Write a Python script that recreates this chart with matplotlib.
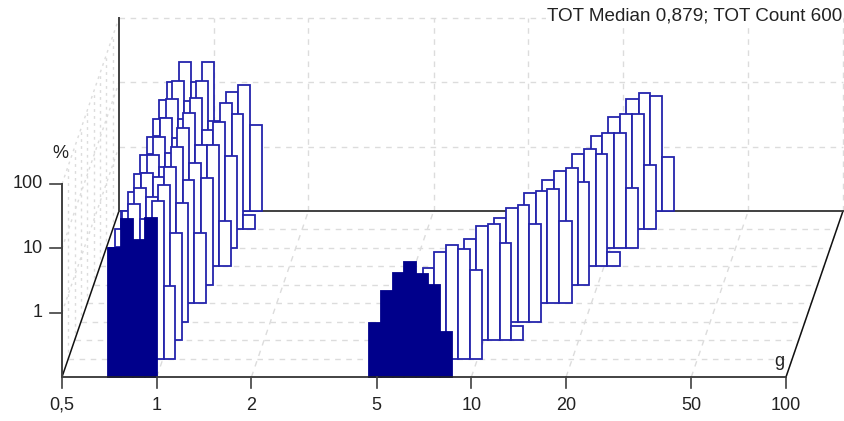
import matplotlib
matplotlib.use('Agg')
import matplotlib.pyplot as plt
import matplotlib.transforms as mtrans
from matplotlib.lines import Line2D

# bin edges (g) for the lower size group
edges_front = [0.701, 0.770, 0.840, 0.915, 1.0]
edges_low = [0.672, 0.709, 0.773, 0.844, 0.920, 1.004, 1.095, 1.195, 1.302, 1.421]
# bin edges (g) for the upper size group
edges_high = [4.73, 5.16, 5.62, 6.13, 6.68, 7.28, 7.94, 8.66, 9.44, 10.3, 11.2, 12.2,
              13.3, 14.5, 15.8, 17.3, 18.8, 20.5, 22.4, 24.4, 26.6, 29.0]

# percent per bin, one list per trace, front trace first
low_values = [
    [10.1, 28.6, 13.5, 29.6],
    [5.3, 5.5, 25.7, 15.0, 28.6, 1.36],
    [5.3, 10.1, 22.9, 16.9, 25.7, 4.57],
    [5.3, 5.5, 20.7, 17.9, 25.7, 7.08],
    [5.3, 5.5, 20.0, 13.0, 27.1, 8.17, 1.22],
    [5.3, 5.5, 20.0, 11.1, 27.1, 7.7, 4.53],
    [5.3, 5.5, 20.4, 10.0, 24.5, 7.7, 7.6, 0.5],
    [5.3, 5.5, 20.4, 10.0, 21.5, 6.7, 9.09, 2.65],
    [5.3, 5.5, 20.4, 10.1, 20.4, 4.77, 9.09, 6.13, 0.17],
    [5.3, 10.1, 20.7, 10.1, 20.7, 2.42, 7.08, 9.09, 2.17],
]
high_values = [
    [0.69, 2.17, 4.18, 6.07, 3.95, 2.69, 0.495],
    [2.60, 4.60, 5.92, 5.13, 2.38],
    [3.69, 5.92, 6.31, 3.26, 0.167],
    [4.04, 5.92, 6.5, 3.25],
    [5.22, 5.51, 5.89, 1.90],
    [4.24, 5.85, 6.59, 3.99],
    [5.51, 6.59, 5.6, 0.17],
    [5.51, 6.2, 6.2, 0.865],
    [5.6, 6.13, 6.13, 1.01],
    [5.51, 6.9, 6.13, 0.70],
]
# first bin of edges_high that is seen in each trace
high_start = [0, 4, 7, 9, 11, 12, 14, 15, 16, 17]

x_ticks = [0.5, 1, 2, 5, 10, 20, 50, 100]
x_labels = ['0,5', '1', '2', '5', '10', '20', '50', '100']
y_ticks = [1, 10, 100]
y_labels = ['1', '10', '100']
note = 'TOT Median 0,879; TOT Count 600'

W, H = 844, 421
DX, DY = 6.33, 18.44
n_depth = 9
X0, X1, Y0, Y1 = 0.5, 100, 0.1, 100

plt.rcParams['font.family'] = ['Liberation Sans', 'DejaVu Sans']
fig = plt.figure(figsize=(W / 100, H / 100), dpi=100)
ax = fig.add_axes([62 / W, 1 - 377 / H, 724 / W, 193 / H])
ax.set_xscale('log')
ax.set_yscale('log')
ax.set_xlim(X0, X1)
ax.set_ylim(Y0, Y1)
ax.patch.set_visible(False)
for s in ax.spines.values():
    s.set_visible(False)
ax.set_xticks([])
ax.set_yticks([])
ax.minorticks_off()


def shifted(k):
    return ax.transData + mtrans.Affine2D().translate(DX * k, DY * k)


def px(x, y, k=0):
    p = ax.transData.transform((x, y))
    return p[0] + DX * k, p[1] + DY * k


def seg(a, b, **kw):
    ax.add_artist(Line2D([a[0], b[0]], [a[1], b[1]], transform=mtrans.IdentityTransform(),
                         clip_on=False, **kw))


grid = dict(color='#dcdcdc', lw=1.0, ls=(0, (4, 4)), zorder=1)
side = dict(color='#dcdcdc', lw=1.0, ls=(0, (2, 3)), zorder=1)
solid = dict(color='#111111', lw=1.1, zorder=3)
wall = dict(color='#404040', lw=1.4, zorder=3)

# floor and walls
for k in range(1, n_depth):
    seg(px(X0, Y0, k), px(X1, Y0, k), **grid)
    seg(px(X0, Y0, k), px(X0, Y1, k), **side)
for t in x_ticks[1:]:
    seg(px(t, Y0), px(t, Y0, n_depth), **grid)
    seg(px(t, Y0, n_depth), px(t, Y1, n_depth), **grid)
for t in y_ticks:
    seg(px(X0, t), px(X0, t, n_depth), **side)
    seg(px(X0, t, n_depth), px(X1, t, n_depth), **grid)

seg(px(X0, Y0), px(X0, Y0, n_depth), **solid)
seg(px(X1, Y0), px(X1, Y0, n_depth), **solid)
seg(px(X0, Y0, n_depth), px(X1, Y0, n_depth), **wall)
seg(px(X0, Y0, n_depth), px(X0, Y1, n_depth), **wall)

# traces, back to front
for k in range(len(low_values) - 1, -1, -1):
    if k == 0:
        e1 = edges_front
        fc, ec = '#00008b', '#00008b'
    else:
        e1 = edges_low
        fc, ec = 'white', '#2424ac'
    v1 = low_values[k]
    s = high_start[k]
    v2 = high_values[k]
    e2 = edges_high[s:s + len(v2) + 1]
    for e, v in ((e1, v1), (e2, v2)):
        left = e[:len(v)]
        width = [e[i + 1] - e[i] for i in range(len(v))]
        ax.bar(left, [b - Y0 for b in v], width=width, bottom=Y0, align='edge',
               facecolor=fc, edgecolor=ec, linewidth=1.3, clip_on=False,
               transform=shifted(k), zorder=20 - k)
ax.set_xlim(X0, X1)
ax.set_ylim(Y0, Y1)

# front axes and ticks sit over the traces
seg(px(X0, Y0), px(X1, Y0), color='#222222', lw=1.2, zorder=25)
seg(px(X0, Y0), px(X0, Y1), color='#404040', lw=1.4, zorder=25)
for t, lab in zip(x_ticks, x_labels):
    x, y = px(t, Y0)
    seg((x, y), (x, y - 11), color='#404040', lw=1.2, zorder=25)
    fig.text(x / W, (y - 28) / H, lab, ha='center', va='center', fontsize=13, color='#222222')
for t, lab in zip(y_ticks, y_labels):
    x, y = px(X0, t)
    seg((x - 12, y), (x, y), color='#404040', lw=1.2, zorder=25)
    fig.text((x - 19) / W, y / H, lab, ha='right', va='center', fontsize=13, color='#222222')
fig.text(60 / W, 1 - 153 / H, '%', ha='center', va='center', fontsize=13, color='#222222')
fig.text(779 / W, 1 - 361 / H, 'g', ha='center', va='center', fontsize=13, color='#222222')
fig.text(842 / W, 1 - 16 / H, note, ha='right', va='center', fontsize=13.6, color='#222222',
         bbox=dict(facecolor='white', edgecolor='none', pad=0.5), zorder=30)

fig.savefig('out.png', dpi=100)
